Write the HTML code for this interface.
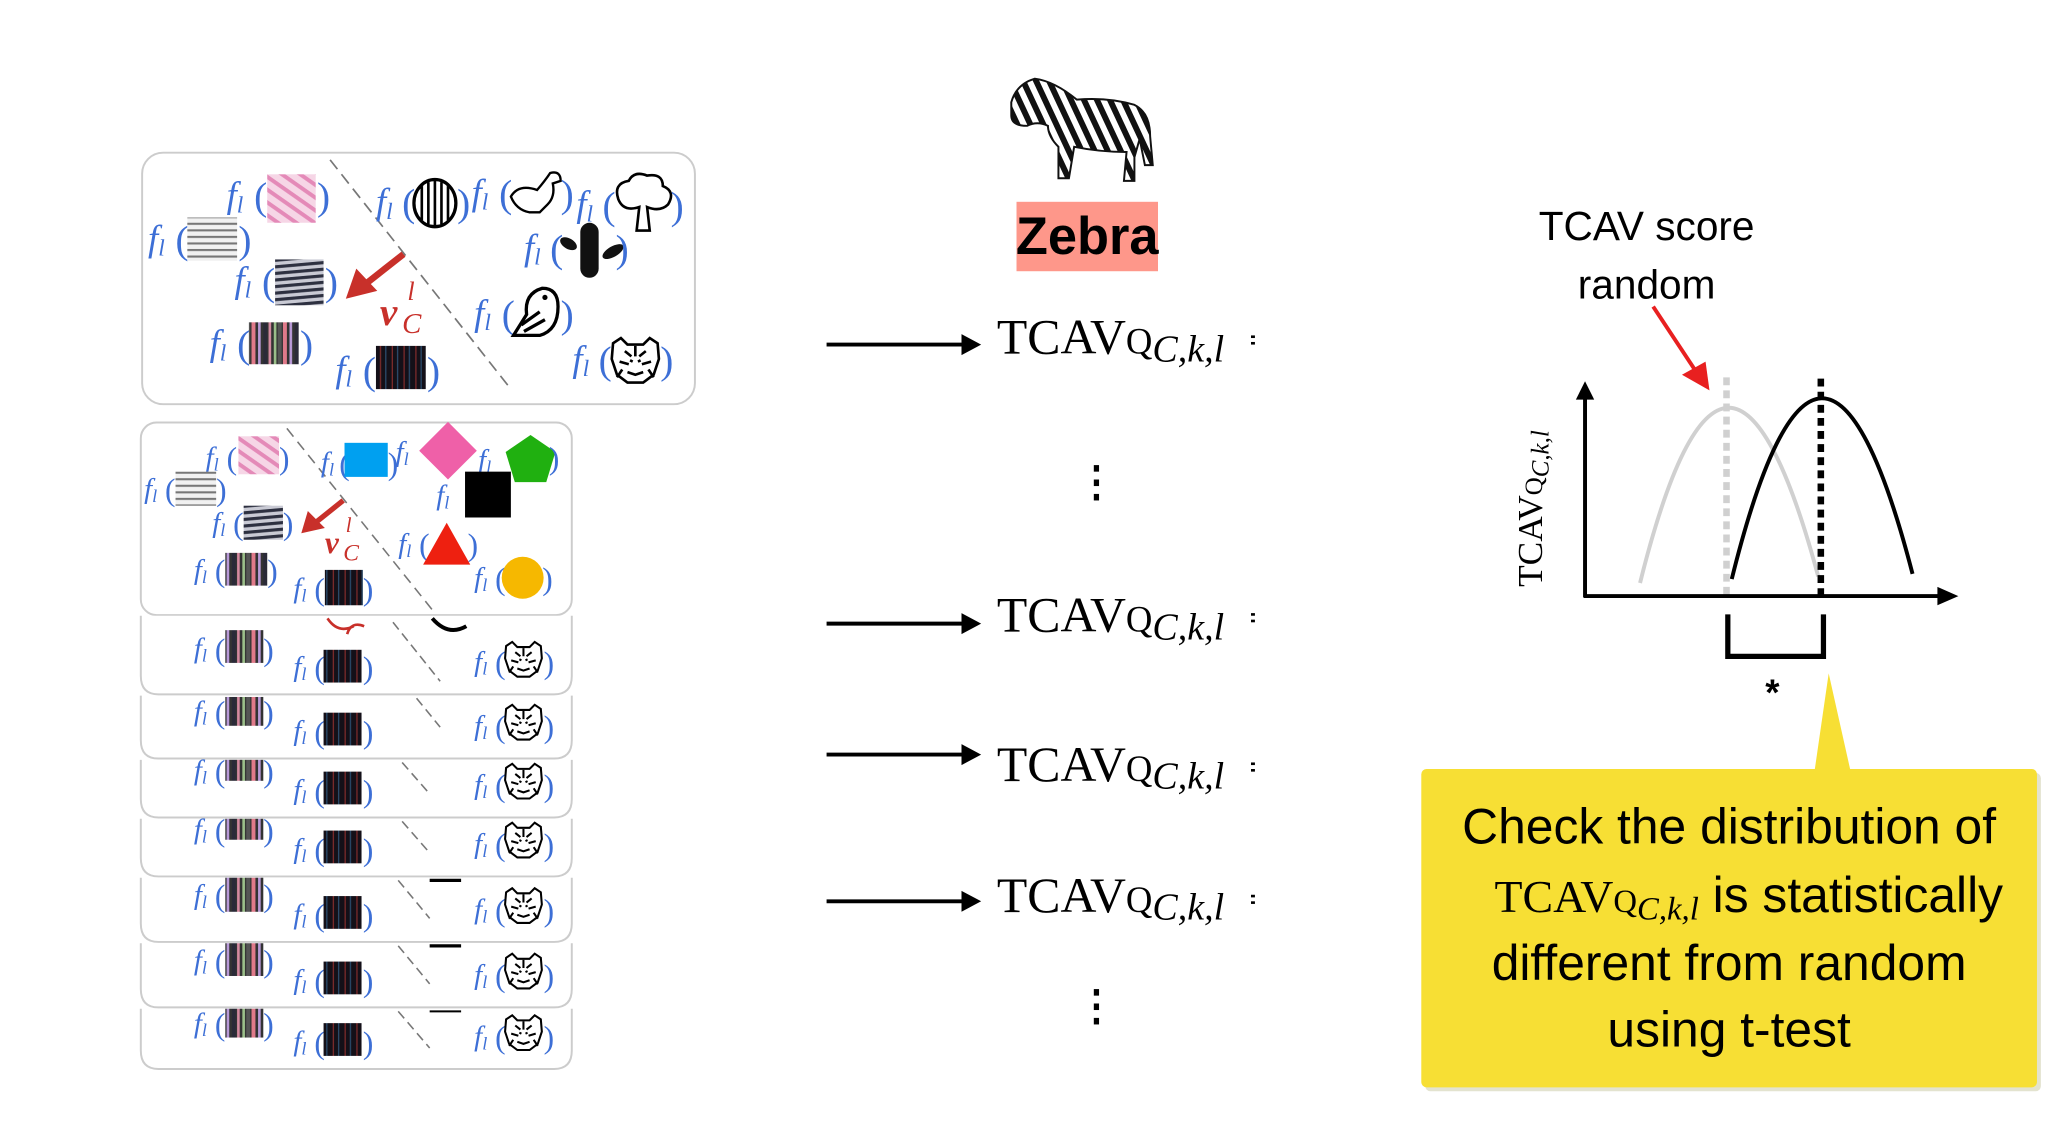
<!DOCTYPE html>
<html><head><meta charset="utf-8"><style>
html,body{margin:0;padding:0;background:#fff}
svg{display:block}
.f{font-family:"Liberation Serif",serif;font-style:italic;fill:#3d6fd6}
.p{font-family:"Liberation Serif",serif;fill:#3d6fd6}
.t{font-family:"Liberation Serif",serif;fill:#000}
.s{font-family:"Liberation Sans",sans-serif;fill:#000}
</style></head><body>
<svg width="2054" height="1128" viewBox="0 0 1568 861" xmlns="http://www.w3.org/2000/svg">
<defs>
<pattern id="pinkP" width="8" height="8" patternUnits="userSpaceOnUse" patternTransform="rotate(35)"><rect width="8" height="8" fill="#f6d6e6"/><rect width="8" height="3" fill="#e48ab8"/></pattern>
<pattern id="grayP" width="6" height="5" patternUnits="userSpaceOnUse"><rect width="6" height="5" fill="#f1f1f1"/><rect width="6" height="1.6" fill="#777"/></pattern>
<pattern id="zebP" width="7" height="5" patternUnits="userSpaceOnUse" patternTransform="rotate(-5)"><rect width="7" height="5" fill="#c9cad4"/><rect width="7" height="2.4" fill="#2d3040"/></pattern>
<pattern id="multiP" width="24" height="10" patternUnits="userSpaceOnUse"><rect width="24" height="10" fill="#333"/><rect x="0" width="3" height="10" fill="#e07a8a"/><rect x="5" width="2" height="10" fill="#b99ad8"/><rect x="9" width="3" height="10" fill="#2a2a38"/><rect x="13" width="2" height="10" fill="#d58aa0"/><rect x="17" width="2" height="10" fill="#9bbf8a"/><rect x="20" width="3" height="10" fill="#555"/></pattern>
<pattern id="blackP" width="9" height="10" patternUnits="userSpaceOnUse"><rect width="9" height="10" fill="#141018"/><rect x="2" width="1" height="10" fill="#7a2a2a"/><rect x="6" width="1" height="10" fill="#2a4a6a"/></pattern>
<pattern id="zebraStr" width="9" height="9" patternUnits="userSpaceOnUse" patternTransform="rotate(65)"><rect width="9" height="9" fill="#fff"/><rect width="9" height="4.5" fill="#111"/></pattern>
<g id="tiger"><path d="M3,4 L9,0 L14,5 L26,5 L31,0 L37,4 L38,16 L34,28 L26,34 L14,34 L6,28 L2,16 Z" fill="#fff" stroke="#000" stroke-width="2"/><path d="M20,6 L20,14 M12,10 L17,14 M28,10 L23,14 M8,18 L15,20 M32,18 L25,20 M14,26 L20,28 L26,26 M10,24 L6,30 M30,24 L34,30 M16,17 L18,18 M24,17 L22,18" stroke="#000" stroke-width="2" fill="none"/></g>
</defs>

<!-- ===== Top panel ===== -->
<rect x="108.5" y="116.5" width="422" height="192" rx="16" fill="#fff" stroke="#ccc" stroke-width="1.5"/>
<line x1="252" y1="122" x2="390" y2="297" stroke="#777" stroke-width="1.3" stroke-dasharray="9,5"/>
<text class="f" x="173" y="158" font-size="28">f<tspan font-size="18" dy="4">l</tspan></text><text class="p" x="194" y="160" font-size="30">(</text><rect x="204" y="133" width="37" height="37" fill="url(#pinkP)"/><text class="p" x="242" y="160" font-size="30">)</text>
<text class="f" x="113" y="191" font-size="28">f<tspan font-size="18" dy="4">l</tspan></text><text class="p" x="134" y="193" font-size="30">(</text><rect x="143" y="166" width="38" height="33" fill="url(#grayP)"/><text class="p" x="182" y="193" font-size="30">)</text>
<text class="f" x="179" y="223" font-size="28">f<tspan font-size="18" dy="4">l</tspan></text><text class="p" x="200" y="225" font-size="30">(</text><rect x="210" y="198" width="37" height="35" fill="url(#zebP)"/><text class="p" x="248" y="225" font-size="30">)</text>
<text class="f" x="160" y="271" font-size="28">f<tspan font-size="18" dy="4">l</tspan></text><text class="p" x="181" y="273" font-size="30">(</text><rect x="190" y="246" width="38" height="32" fill="url(#multiP)"/><text class="p" x="229" y="273" font-size="30">)</text>
<text class="f" x="256" y="291" font-size="28">f<tspan font-size="18" dy="4">l</tspan></text><text class="p" x="277" y="293" font-size="30">(</text><rect x="287" y="264" width="38" height="33" fill="url(#blackP)"/><text class="p" x="326" y="293" font-size="30">)</text>
<line x1="308" y1="194" x2="280" y2="216" stroke="#c8302a" stroke-width="5"/>
<polygon points="264,228 272,205 288,222" fill="#c8302a"/>
<text x="290" y="248" font-family="Liberation Serif,serif" font-style="italic" font-weight="bold" font-size="30" fill="#c8302a">v</text>
<text x="311" y="229" font-family="Liberation Serif,serif" font-style="italic" font-size="20" fill="#c8302a">l</text>
<text x="307" y="254" font-family="Liberation Serif,serif" font-style="italic" font-size="22" fill="#c8302a">C</text>
<text class="f" x="287" y="163" font-size="28">f<tspan font-size="18" dy="4">l</tspan></text><text class="p" x="307" y="165" font-size="30">(</text><ellipse cx="332" cy="155" rx="16" ry="18" fill="#fff" stroke="#000" stroke-width="2.5"/><path d="M322,142 V168 M327,139 V171 M332,138 V172 M337,139 V171 M342,142 V168" stroke="#000" stroke-width="2"/><text class="p" x="349" y="165" font-size="30">)</text>
<text class="f" x="360" y="156" font-size="28">f<tspan font-size="18" dy="4">l</tspan></text><text class="p" x="381" y="158" font-size="30">(</text><path d="M390,150 Q396,140 410,145 Q416,138 420,132 Q428,130 428,138 L422,140 Q424,150 418,156 L412,162 L404,162 Q394,160 390,150 Z" fill="#fff" stroke="#000" stroke-width="1.8"/><text class="p" x="428" y="158" font-size="30">)</text>
<text class="f" x="440" y="165" font-size="28">f<tspan font-size="18" dy="4">l</tspan></text><text class="p" x="460" y="167" font-size="30">(</text><path d="M472,152 Q468,140 480,138 Q484,130 494,134 Q506,132 506,142 Q516,146 510,156 Q504,162 494,158 L496,176 L486,176 L488,158 Q476,162 472,152 Z" fill="#fff" stroke="#000" stroke-width="2"/><text class="p" x="512" y="167" font-size="30">)</text>
<text class="f" x="400" y="198" font-size="28">f<tspan font-size="18" dy="4">l</tspan></text><text class="p" x="420" y="200" font-size="30">(</text><rect x="443" y="170" width="14" height="42" rx="7" fill="#111"/><ellipse cx="434" cy="186" rx="7" ry="4" fill="#111" transform="rotate(30 434 186)"/><ellipse cx="468" cy="192" rx="9" ry="4" fill="#111" transform="rotate(-30 468 192)"/><text class="p" x="470" y="200" font-size="30">)</text>
<text class="f" x="362" y="248" font-size="28">f<tspan font-size="18" dy="4">l</tspan></text><text class="p" x="383" y="250" font-size="30">(</text><path d="M392,256 L402,240 Q400,224 414,220 Q426,220 426,234 Q426,252 412,256 Z" fill="#fff" stroke="#000" stroke-width="2.5"/><path d="M398,248 L412,238 M400,253 L416,244" stroke="#000" stroke-width="2.5"/><circle cx="416" cy="227" r="2" fill="#000"/><text class="p" x="428" y="250" font-size="30">)</text>
<text class="f" x="437" y="283" font-size="28">f<tspan font-size="18" dy="4">l</tspan></text><text class="p" x="457" y="285" font-size="30">(</text><use href="#tiger" x="465" y="258"/><text class="p" x="504" y="285" font-size="30">)</text>

<!-- ===== Second panel ===== -->
<rect x="107.5" y="322.5" width="329" height="147" rx="12" fill="#fff" stroke="#ccc" stroke-width="1.5"/>
<line x1="219" y1="327" x2="332" y2="468" stroke="#777" stroke-width="1.2" stroke-dasharray="8,5"/>
<text class="f" x="157" y="356" font-size="22">f<tspan font-size="14" dy="3">l</tspan></text><text class="p" x="173" y="358" font-size="24">(</text><rect x="182" y="333" width="31" height="29" fill="url(#pinkP)"/><text class="p" x="213" y="358" font-size="24">)</text>
<text class="f" x="110" y="380" font-size="22">f<tspan font-size="14" dy="3">l</tspan></text><text class="p" x="126" y="382" font-size="24">(</text><rect x="134" y="360" width="31" height="26" fill="url(#grayP)"/><text class="p" x="165" y="382" font-size="24">)</text>
<text class="f" x="162" y="406" font-size="22">f<tspan font-size="14" dy="3">l</tspan></text><text class="p" x="178" y="408" font-size="24">(</text><rect x="186" y="386" width="30" height="26" fill="url(#zebP)"/><text class="p" x="216" y="408" font-size="24">)</text>
<text class="f" x="148" y="442" font-size="22">f<tspan font-size="14" dy="3">l</tspan></text><text class="p" x="164" y="444" font-size="24">(</text><rect x="172" y="422" width="32" height="25" fill="url(#multiP)"/><text class="p" x="204" y="444" font-size="24">)</text>
<text class="f" x="224" y="456" font-size="22">f<tspan font-size="14" dy="3">l</tspan></text><text class="p" x="240" y="458" font-size="24">(</text><rect x="248" y="435" width="29" height="27" fill="url(#blackP)"/><text class="p" x="277" y="458" font-size="24">)</text>
<line x1="262" y1="382" x2="242" y2="398" stroke="#c8302a" stroke-width="4"/>
<polygon points="230,407 235,390 248,403" fill="#c8302a"/>
<text x="248" y="422" font-family="Liberation Serif,serif" font-style="italic" font-weight="bold" font-size="24" fill="#c8302a">v</text>
<text x="264" y="406" font-family="Liberation Serif,serif" font-style="italic" font-size="16" fill="#c8302a">l</text>
<text x="262" y="428" font-family="Liberation Serif,serif" font-style="italic" font-size="18" fill="#c8302a">C</text>
<text class="f" x="245" y="360" font-size="22">f<tspan font-size="14" dy="3">l</tspan></text><text class="p" x="259" y="362" font-size="24">(</text><rect x="263" y="338" width="33" height="26" fill="#00a0f0"/><text class="p" x="296" y="362" font-size="24">)</text>
<text class="f" x="302" y="352" font-size="22">f<tspan font-size="14" dy="3">l</tspan></text>
<polygon points="342,322 364,344 342,366 320,344" fill="#ef60a8"/>
<text class="f" x="365" y="358" font-size="22">f<tspan font-size="14" dy="3">l</tspan></text>
<polygon points="405,332 424,345 417,368 393,368 386,345" fill="#20b010"/><text class="p" x="419" y="358" font-size="24">)</text>
<text class="f" x="333" y="385" font-size="22">f<tspan font-size="14" dy="3">l</tspan></text>
<rect x="355" y="360" width="35" height="35" fill="#000"/>
<text class="f" x="304" y="422" font-size="22">f<tspan font-size="14" dy="3">l</tspan></text><text class="p" x="320" y="424" font-size="24">(</text>
<polygon points="341,399 359,431 323,431" fill="#ee2010"/><text class="p" x="357" y="424" font-size="24">)</text>
<text class="f" x="362" y="448" font-size="22">f<tspan font-size="14" dy="3">l</tspan></text><text class="p" x="378" y="450" font-size="24">(</text>
<circle cx="399" cy="441" r="16" fill="#f6b800"/><text class="p" x="414" y="450" font-size="24">)</text>

<!-- ===== Stacked strips ===== -->
<path d="M107.5,470 V516 Q107.5,530 121,530 H423 Q436.5,530 436.5,516 V470" fill="#fff" stroke="#ccc" stroke-width="1.5"/>
<path d="M250,472 Q258,484 270,478 M265,484 Q268,474 278,478" stroke="#c8302a" stroke-width="2" fill="none"/>
<path d="M330,472 Q342,486 356,478" stroke="#000" stroke-width="3" fill="none"/>
<line x1="300" y1="475" x2="336" y2="520" stroke="#777" stroke-width="1.2" stroke-dasharray="7,4"/>
<text class="f" x="148" y="502" font-size="22">f<tspan font-size="14" dy="3">l</tspan></text><text class="p" x="164" y="504" font-size="24">(</text><rect x="172" y="481" width="29" height="25" fill="url(#multiP)"/><text class="p" x="201" y="504" font-size="24">)</text>
<text class="f" x="224" y="516" font-size="22">f<tspan font-size="14" dy="3">l</tspan></text><text class="p" x="240" y="518" font-size="24">(</text><rect x="247" y="496" width="29" height="25" fill="url(#blackP)"/><text class="p" x="277" y="518" font-size="24">)</text>
<text class="f" x="362" y="512" font-size="22">f<tspan font-size="14" dy="3">l</tspan></text><text class="p" x="378" y="514" font-size="24">(</text><use href="#tiger" transform="translate(384,490) scale(0.78)"/><text class="p" x="415" y="514" font-size="24">)</text>

<path d="M107.5,531 V565 Q107.5,579 121,579 H423 Q436.5,579 436.5,565 V531" fill="#fff" stroke="#ccc" stroke-width="1.5"/>
<line x1="318" y1="533" x2="336" y2="555" stroke="#777" stroke-width="1.2" stroke-dasharray="7,4"/>
<text class="f" x="148" y="550" font-size="22">f<tspan font-size="14" dy="3">l</tspan></text><text class="p" x="164" y="552" font-size="24">(</text><rect x="172" y="532" width="29" height="22" fill="url(#multiP)"/><text class="p" x="201" y="552" font-size="24">)</text>
<text class="f" x="224" y="565" font-size="22">f<tspan font-size="14" dy="3">l</tspan></text><text class="p" x="240" y="567" font-size="24">(</text><rect x="247" y="544" width="29" height="25" fill="url(#blackP)"/><text class="p" x="277" y="567" font-size="24">)</text>
<text class="f" x="362" y="561" font-size="22">f<tspan font-size="14" dy="3">l</tspan></text><text class="p" x="378" y="563" font-size="24">(</text><use href="#tiger" transform="translate(384,538) scale(0.78)"/><text class="p" x="415" y="563" font-size="24">)</text>

<path d="M107.5,580 V610 Q107.5,624 121,624 H423 Q436.5,624 436.5,610 V580" fill="#fff" stroke="#ccc" stroke-width="1.5"/>
<line x1="307" y1="582" x2="328" y2="606" stroke="#777" stroke-width="1.2" stroke-dasharray="7,4"/>
<text class="f" x="148" y="595" font-size="22">f<tspan font-size="14" dy="3">l</tspan></text><text class="p" x="164" y="597" font-size="24">(</text><rect x="172" y="580" width="29" height="16" fill="url(#multiP)"/><text class="p" x="201" y="597" font-size="24">)</text>
<text class="f" x="224" y="610" font-size="22">f<tspan font-size="14" dy="3">l</tspan></text><text class="p" x="240" y="612" font-size="24">(</text><rect x="247" y="589" width="29" height="25" fill="url(#blackP)"/><text class="p" x="277" y="612" font-size="24">)</text>
<text class="f" x="362" y="606" font-size="22">f<tspan font-size="14" dy="3">l</tspan></text><text class="p" x="378" y="608" font-size="24">(</text><use href="#tiger" transform="translate(384,583) scale(0.78)"/><text class="p" x="415" y="608" font-size="24">)</text>

<path d="M107.5,625 V655 Q107.5,669 121,669 H423 Q436.5,669 436.5,655 V625" fill="#fff" stroke="#ccc" stroke-width="1.5"/>
<line x1="307" y1="627" x2="328" y2="651" stroke="#777" stroke-width="1.2" stroke-dasharray="7,4"/>
<text class="f" x="148" y="640" font-size="22">f<tspan font-size="14" dy="3">l</tspan></text><text class="p" x="164" y="642" font-size="24">(</text><rect x="172" y="625" width="29" height="16" fill="url(#multiP)"/><text class="p" x="201" y="642" font-size="24">)</text>
<text class="f" x="224" y="655" font-size="22">f<tspan font-size="14" dy="3">l</tspan></text><text class="p" x="240" y="657" font-size="24">(</text><rect x="247" y="634" width="29" height="25" fill="url(#blackP)"/><text class="p" x="277" y="657" font-size="24">)</text>
<text class="f" x="362" y="651" font-size="22">f<tspan font-size="14" dy="3">l</tspan></text><text class="p" x="378" y="653" font-size="24">(</text><use href="#tiger" transform="translate(384,628) scale(0.78)"/><text class="p" x="415" y="653" font-size="24">)</text>

<path d="M107.5,670 V705 Q107.5,719 121,719 H423 Q436.5,719 436.5,705 V670" fill="#fff" stroke="#ccc" stroke-width="1.5"/>
<line x1="304" y1="672" x2="328" y2="701" stroke="#777" stroke-width="1.2" stroke-dasharray="7,4"/>
<path d="M328,672 H352" stroke="#000" stroke-width="2.5"/>
<text class="f" x="148" y="690" font-size="22">f<tspan font-size="14" dy="3">l</tspan></text><text class="p" x="164" y="692" font-size="24">(</text><rect x="172" y="670" width="29" height="26" fill="url(#multiP)"/><text class="p" x="201" y="692" font-size="24">)</text>
<text class="f" x="224" y="705" font-size="22">f<tspan font-size="14" dy="3">l</tspan></text><text class="p" x="240" y="707" font-size="24">(</text><rect x="247" y="684" width="29" height="25" fill="url(#blackP)"/><text class="p" x="277" y="707" font-size="24">)</text>
<text class="f" x="362" y="701" font-size="22">f<tspan font-size="14" dy="3">l</tspan></text><text class="p" x="378" y="703" font-size="24">(</text><use href="#tiger" transform="translate(384,678) scale(0.78)"/><text class="p" x="415" y="703" font-size="24">)</text>

<path d="M107.5,720 V755 Q107.5,769 121,769 H423 Q436.5,769 436.5,755 V720" fill="#fff" stroke="#ccc" stroke-width="1.5"/>
<line x1="304" y1="722" x2="328" y2="751" stroke="#777" stroke-width="1.2" stroke-dasharray="7,4"/>
<path d="M328,722 H352" stroke="#000" stroke-width="2.5"/>
<text class="f" x="148" y="740" font-size="22">f<tspan font-size="14" dy="3">l</tspan></text><text class="p" x="164" y="742" font-size="24">(</text><rect x="172" y="720" width="29" height="25" fill="url(#multiP)"/><text class="p" x="201" y="742" font-size="24">)</text>
<text class="f" x="224" y="755" font-size="22">f<tspan font-size="14" dy="3">l</tspan></text><text class="p" x="240" y="757" font-size="24">(</text><rect x="247" y="734" width="29" height="25" fill="url(#blackP)"/><text class="p" x="277" y="757" font-size="24">)</text>
<text class="f" x="362" y="751" font-size="22">f<tspan font-size="14" dy="3">l</tspan></text><text class="p" x="378" y="753" font-size="24">(</text><use href="#tiger" transform="translate(384,728) scale(0.78)"/><text class="p" x="415" y="753" font-size="24">)</text>

<path d="M107.5,770 V802 Q107.5,816 121,816 H423 Q436.5,816 436.5,802 V770" fill="#fff" stroke="#ccc" stroke-width="1.5"/>
<line x1="304" y1="772" x2="328" y2="800" stroke="#777" stroke-width="1.2" stroke-dasharray="7,4"/>
<path d="M328,772 H352" stroke="#000" stroke-width="1.5"/>
<text class="f" x="148" y="788" font-size="22">f<tspan font-size="14" dy="3">l</tspan></text><text class="p" x="164" y="790" font-size="24">(</text><rect x="172" y="770" width="29" height="22" fill="url(#multiP)"/><text class="p" x="201" y="790" font-size="24">)</text>
<text class="f" x="224" y="802" font-size="22">f<tspan font-size="14" dy="3">l</tspan></text><text class="p" x="240" y="804" font-size="24">(</text><rect x="247" y="781" width="29" height="25" fill="url(#blackP)"/><text class="p" x="277" y="804" font-size="24">)</text>
<text class="f" x="362" y="798" font-size="22">f<tspan font-size="14" dy="3">l</tspan></text><text class="p" x="378" y="800" font-size="24">(</text><use href="#tiger" transform="translate(384,775) scale(0.78)"/><text class="p" x="415" y="800" font-size="24">)</text>

<!-- ===== Zebra ===== -->
<path d="M772,78 Q776,64 790,60 Q805,62 822,76 Q846,74 866,80 Q878,86 878,104 L880,126 L874,126 L870,106 L866,120 L866,138 L858,138 L860,116 Q840,116 820,112 L816,136 L808,136 L808,112 Q800,104 800,96 Q792,92 784,96 Q772,96 772,88 Z" fill="url(#zebraStr)" stroke="#111" stroke-width="1.5"/>
<rect x="776" y="154" width="108" height="53" fill="#fe978a"/>
<text class="s" x="830" y="194" font-size="40" font-weight="bold" text-anchor="middle">Zebra</text>

<!-- ===== Arrows + TCAV ===== -->
<g stroke="#000" stroke-width="3">
<line x1="631" y1="263" x2="736" y2="263"/><line x1="631" y1="476" x2="736" y2="476"/><line x1="631" y1="576" x2="736" y2="576"/><line x1="631" y1="688" x2="736" y2="688"/>
</g>
<g fill="#000">
<polygon points="749,263 734,255 734,271"/><polygon points="749,476 734,468 734,484"/><polygon points="749,576 734,568 734,584"/><polygon points="749,688 734,680 734,696"/>
</g>
<g class="t">
<text x="761" y="270" font-size="38">TCAV<tspan font-size="28">Q</tspan><tspan font-style="italic" font-size="29" dy="6">C,k,l</tspan></text>
<text x="761" y="482" font-size="38">TCAV<tspan font-size="28">Q</tspan><tspan font-style="italic" font-size="29" dy="6">C,k,l</tspan></text>
<text x="761" y="596" font-size="38">TCAV<tspan font-size="28">Q</tspan><tspan font-style="italic" font-size="29" dy="6">C,k,l</tspan></text>
<text x="761" y="696" font-size="38">TCAV<tspan font-size="28">Q</tspan><tspan font-style="italic" font-size="29" dy="6">C,k,l</tspan></text>
</g>
<g fill="#000"><rect x="955" y="256" width="3" height="2"/><rect x="955" y="261" width="3" height="2"/><rect x="955" y="468" width="3" height="2"/><rect x="955" y="473" width="3" height="2"/><rect x="955" y="582" width="3" height="2"/><rect x="955" y="587" width="3" height="2"/><rect x="955" y="683" width="3" height="2"/><rect x="955" y="688" width="3" height="2"/>
<rect x="835" y="355" width="4" height="5"/><rect x="835" y="366" width="4" height="5"/><rect x="835" y="377" width="4" height="5"/>
<rect x="835" y="755" width="4" height="5"/><rect x="835" y="766" width="4" height="5"/><rect x="835" y="777" width="4" height="5"/></g>

<!-- ===== Chart ===== -->
<text class="s" x="1257" y="183" font-size="31" text-anchor="middle">TCAV score</text>
<text class="s" x="1257" y="228" font-size="31" text-anchor="middle">random</text>
<line x1="1262" y1="234" x2="1295" y2="284" stroke="#e82020" stroke-width="3"/>
<polygon points="1305,298 1284,286 1302,276" fill="#e82020"/>
<path d="M1252,445 Q1318,180 1388,440" fill="none" stroke="#d0d0d0" stroke-width="3"/>
<path d="M1322,442 Q1390,168 1460,438" fill="none" stroke="#000" stroke-width="3"/>
<line x1="1318" y1="288" x2="1318" y2="456" stroke="#d0d0d0" stroke-width="5" stroke-dasharray="6,4"/>
<line x1="1390" y1="289" x2="1390" y2="456" stroke="#000" stroke-width="5" stroke-dasharray="6,4"/>
<line x1="1210" y1="304" x2="1210" y2="456" stroke="#000" stroke-width="3"/>
<polygon points="1210,291 1203,305 1217,305" fill="#000"/>
<line x1="1209" y1="455" x2="1482" y2="455" stroke="#000" stroke-width="3"/>
<polygon points="1495,455 1479,448 1479,462" fill="#000"/>
<path d="M1319,469 V501 H1392 V469" fill="none" stroke="#000" stroke-width="4"/>
<text class="s" x="1353" y="538" font-size="28" font-weight="bold" text-anchor="middle">*</text>
<text class="t" transform="translate(1177,448) rotate(-90)" font-size="27">TCAV<tspan font-size="19">Q</tspan><tspan font-style="italic" font-size="19" dy="5">C,k,l</tspan></text>

<!-- ===== Callout ===== -->
<rect x="1088" y="590" width="470" height="243" rx="4" fill="#c8c8a0" opacity="0.5"/>
<polygon points="1396,514 1385,590 1413,590" fill="#f7df34"/>
<rect x="1085" y="587" width="470" height="243" rx="4" fill="#f7df34"/>
<g class="s" font-size="38" text-anchor="middle">
<text x="1320" y="644">Check the distribution of</text>
<text x="1335" y="696"><tspan font-family="Liberation Serif,serif" font-size="35">TCAV</tspan><tspan font-family="Liberation Serif,serif" font-size="25">Q</tspan><tspan font-family="Liberation Serif,serif" font-style="italic" font-size="25" dy="6">C,k,l</tspan><tspan dy="-6"> is statistically</tspan></text>
<text x="1320" y="748">different from random</text>
<text x="1320" y="799">using t-test</text>
</g>
</svg>
</body></html>
